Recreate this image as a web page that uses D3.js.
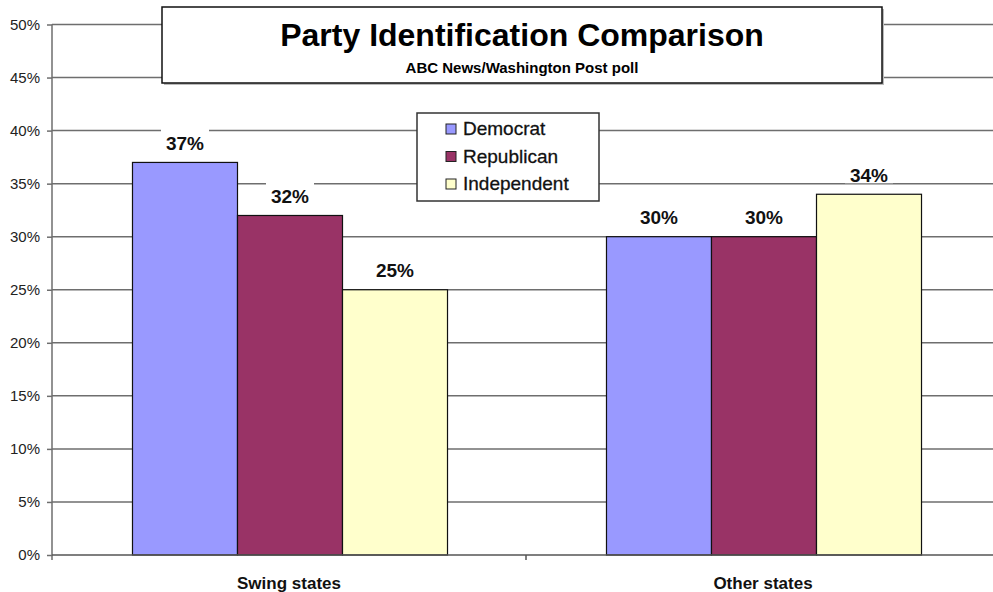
<!DOCTYPE html>
<html><head><meta charset="utf-8">
<script src="https://cdn.jsdelivr.net/npm/d3@7"></script>
<style>html,body{margin:0;padding:0;background:#fff;}svg{display:block;font-family:Arial,"Liberation Sans",sans-serif;}</style>
</head><body>
<script>
const categories = ["Swing states", "Other states"];
const series = ["Democrat", "Republican", "Independent"];
const democrat = [0.37, 0.30];
const republican = [0.32, 0.30];
const independent = [0.25, 0.34];
const yTicks = [0, 0.05, 0.10, 0.15, 0.20, 0.25, 0.30, 0.35, 0.40, 0.45, 0.50];
const colors = ["#9999FF", "#993366", "#FFFFCC"];
const titleText = "Party Identification Comparison";
const subtitleText = "ABC News/Washington Post poll";

(function () {
const values = [democrat, republican, independent];
const W = 993, H = 592;
const svg = d3.select("body").append("svg").attr("width", W).attr("height", H);

const pLeft = 52, pRight = 1000, pTop = 24.5, pBottom = 555;
const x0 = d3.scaleBand().domain(categories).range([pLeft, pRight]).padding(0);
const x1 = d3.scaleBand().domain(series).range([0, x0.bandwidth()]).paddingInner(0).paddingOuter(0.757);
const y = d3.scaleLinear().domain([0, 0.5]).range([pBottom, pTop]);
const color = d3.scaleOrdinal().domain(series).range(colors);

// gridlines
svg.append("g").selectAll("line").data(yTicks.filter(d => d > 0)).join("line")
  .attr("x1", pLeft).attr("x2", W).attr("y1", d => y(d)).attr("y2", d => y(d))
  .attr("stroke", "#6e6e6e").attr("stroke-width", 1.5);

// y axis
const yAxis = d3.axisLeft(y).tickValues(yTicks).tickFormat(d3.format(".0%")).tickSize(5).tickPadding(7);
const gy = svg.append("g").attr("transform", `translate(${pLeft},0)`).call(yAxis);
gy.select(".domain").attr("stroke", "#6e6e6e").attr("stroke-width", 1.5).attr("d", `M0,${pTop}V${pBottom + 5}`);
gy.selectAll(".tick line").attr("stroke", "#6e6e6e").attr("stroke-width", 1.5);
gy.selectAll(".tick text").attr("font-size", 15).attr("fill", "#222").attr("font-family", "Arial, 'Liberation Sans', sans-serif");

// bars
const data = [];
categories.forEach((c, i) => series.forEach((s, j) => data.push({c, s, v: values[j][i]})));
svg.append("g").selectAll("rect").data(data).join("rect")
  .attr("x", d => x0(d.c) + x1(d.s) + 1).attr("width", x1.bandwidth())
  .attr("y", d => y(d.v)).attr("height", d => y(0) - y(d.v))
  .attr("fill", d => color(d.s)).attr("stroke", "#111").attr("stroke-width", 1.2);

// x axis
svg.append("line").attr("x1", pLeft).attr("x2", W).attr("y1", pBottom).attr("y2", pBottom)
  .attr("stroke", "#555").attr("stroke-width", 1.5);
svg.append("g").selectAll("line").data(categories.slice(1)).join("line")
  .attr("x1", d => x0(d)).attr("x2", d => x0(d)).attr("y1", pBottom).attr("y2", pBottom + 5)
  .attr("stroke", "#555").attr("stroke-width", 1.5);
svg.append("g").selectAll("text").data(categories).join("text")
  .attr("x", d => x0(d) + x0.bandwidth() / 2).attr("y", 589)
  .attr("text-anchor", "middle").attr("font-size", 17).attr("font-weight", "bold").attr("fill", "#111")
  .text(d => d);

// value labels
const lg = svg.append("g");
data.forEach(d => {
  const cx = x0(d.c) + x1(d.s) + x1.bandwidth() / 2 + 1;
  const by = y(d.v) - 12.5;
  const t = lg.append("text").attr("x", cx).attr("y", by).attr("text-anchor", "middle")
    .attr("font-size", 19).attr("font-weight", "bold").attr("fill", "#111").text(d3.format(".0%")(d.v));
  const w = t.node().getComputedTextLength();
  lg.insert("rect", () => t.node()).attr("x", cx - w / 2 - 5).attr("y", by - 21).attr("width", w + 10).attr("height", 22.5).attr("fill", "#fff");
});

// title box
svg.append("rect").attr("x", 164).attr("y", 9).attr("width", 720).attr("height", 76).attr("fill", "#bbb");
svg.append("rect").attr("x", 162).attr("y", 7).attr("width", 720).attr("height", 76)
  .attr("fill", "#fff").attr("stroke", "#111").attr("stroke-width", 1.5);
svg.append("text").attr("x", 522).attr("y", 46).attr("text-anchor", "middle")
  .attr("font-size", 32).attr("font-weight", "bold").attr("fill", "#000").text(titleText);
svg.append("text").attr("x", 522).attr("y", 73).attr("text-anchor", "middle")
  .attr("font-size", 15).attr("font-weight", "bold").attr("fill", "#000").text(subtitleText);

// legend
const leg = svg.append("g");
leg.append("rect").attr("x", 417).attr("y", 113).attr("width", 182).attr("height", 88)
  .attr("fill", "#fff").attr("stroke", "#333").attr("stroke-width", 1.5);
series.forEach((s, i) => {
  const yy = 124 + i * 27.5;
  leg.append("rect").attr("x", 446).attr("y", yy).attr("width", 10).attr("height", 10)
    .attr("fill", color(s)).attr("stroke", "#222").attr("stroke-width", 1);
  leg.append("text").attr("x", 463).attr("y", yy + 11).attr("font-size", 19).attr("fill", "#111")
    .attr("stroke", "#111").attr("stroke-width", 0.3).text(s);
});
})();
</script>
</body></html>
